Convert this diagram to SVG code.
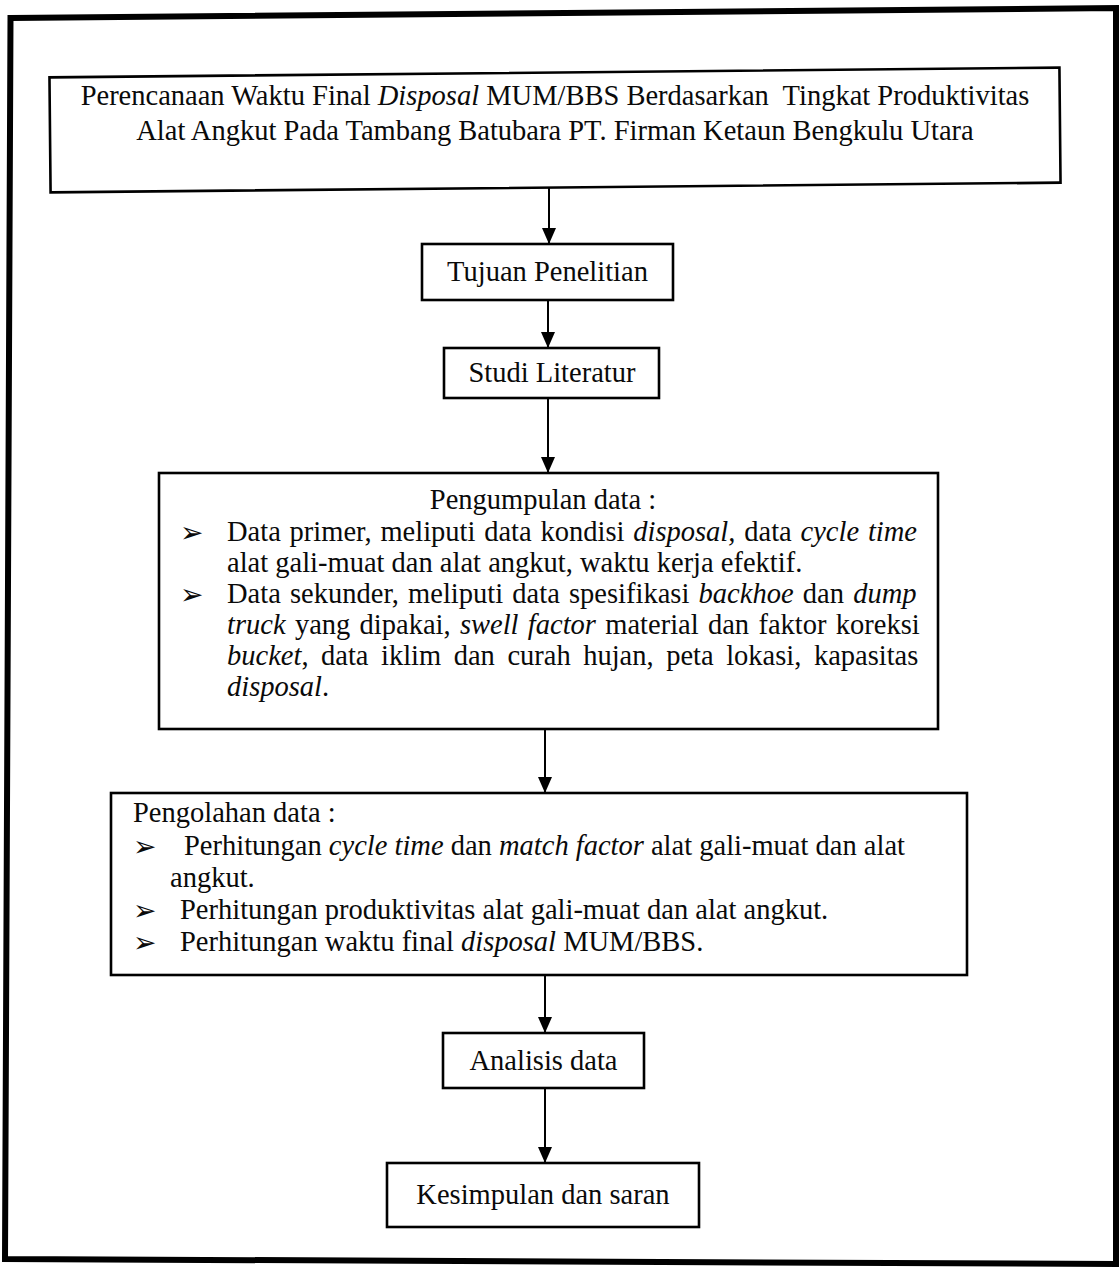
<svg xmlns="http://www.w3.org/2000/svg" width="1119" height="1270" viewBox="0 0 1119 1270">
<style>
.bg{fill:#fff}
.frame{fill:none;stroke:#000;stroke-width:6;stroke-linejoin:miter}
.box{fill:#fff;stroke:#000;stroke-width:2.6}
.t{font-family:"Liberation Serif","Times New Roman",serif;font-size:28.5px;fill:#0a0a0a}
.i{font-style:italic}
.b{font-family:"DejaVu Sans",sans-serif;font-size:28px;fill:#0a0a0a}
.c{stroke:#000;stroke-width:2;fill:none;marker-end:url(#arr)}
</style>
<defs>
<marker id="arr" markerUnits="userSpaceOnUse" markerWidth="17" markerHeight="15" refX="16" refY="7" orient="auto">
<path d="M0,0 L16,7 L0,14 Z" fill="#000"/>
</marker>
</defs>
<rect class="bg" x="0" y="0" width="1119" height="1270"/>
<polygon id="frame" class="frame" points="10.5,18 1116,8 1116,1264 5,1259"/>

<g id="connectors">
<line class="c" x1="549" y1="187" x2="549" y2="244"/>
<line class="c" x1="548" y1="300" x2="548" y2="348"/>
<line class="c" x1="548" y1="398" x2="548" y2="473"/>
<line class="c" x1="545" y1="729" x2="545" y2="793"/>
<line class="c" x1="545" y1="975" x2="545" y2="1033"/>
<line class="c" x1="545" y1="1088" x2="545" y2="1163"/>
</g>

<g id="node-judul">
<rect class="box" x="50" y="72.5" width="1010" height="115" transform="rotate(-0.55 555 130)"/>
<text class="t" x="555" y="105" text-anchor="middle" xml:space="preserve">Perencanaan Waktu Final <tspan class="i">Disposal</tspan> MUM/BBS Berdasarkan  Tingkat Produktivitas</text>
<text class="t" x="555" y="140" text-anchor="middle">Alat Angkut Pada Tambang Batubara PT. Firman Ketaun Bengkulu Utara</text>
</g>

<g id="node-tujuan">
<rect class="box" x="422" y="244" width="251" height="56"/>
<text class="t" x="547.5" y="281" text-anchor="middle">Tujuan Penelitian</text>
</g>

<g id="node-studi">
<rect class="box" x="444" y="348" width="215" height="50"/>
<text class="t" x="552" y="382" text-anchor="middle">Studi Literatur</text>
</g>

<g id="node-pengumpulan">
<rect class="box" x="159" y="473" width="779" height="256"/>
<text class="t" x="543" y="509" text-anchor="middle">Pengumpulan data :</text>
<text class="b" x="180" y="542">➢</text>
<text class="t" x="227" y="541" word-spacing="1.7">Data primer, meliputi data kondisi <tspan class="i">disposal,</tspan> data <tspan class="i">cycle time</tspan></text>
<text class="t" x="227" y="572">alat gali-muat dan alat angkut, waktu kerja efektif.</text>
<text class="b" x="180" y="604">➢</text>
<text class="t" x="227" y="603" word-spacing="2.1">Data sekunder, meliputi data spesifikasi <tspan class="i">backhoe</tspan> dan <tspan class="i">dump</tspan></text>
<text class="t" x="227" y="634" word-spacing="2.2"><tspan class="i">truck</tspan> yang dipakai, <tspan class="i">swell factor</tspan> material dan faktor koreksi</text>
<text class="t" x="227" y="665" word-spacing="5.4"><tspan class="i">bucket</tspan>, data iklim dan curah hujan, peta lokasi, kapasitas</text>
<text class="t" x="227" y="696"><tspan class="i">disposal</tspan>.</text>
</g>

<g id="node-pengolahan">
<rect class="box" x="111" y="793" width="856" height="182"/>
<text class="t" x="133" y="822">Pengolahan data :</text>
<text class="b" x="133" y="856">➢</text>
<text class="t" x="184" y="855">Perhitungan <tspan class="i">cycle time</tspan> dan <tspan class="i">match factor</tspan> alat gali-muat dan alat</text>
<text class="t" x="170" y="887">angkut.</text>
<text class="b" x="133" y="920">➢</text>
<text class="t" x="180" y="919">Perhitungan produktivitas alat gali-muat dan alat angkut.</text>
<text class="b" x="133" y="952">➢</text>
<text class="t" x="180" y="951">Perhitungan waktu final <tspan class="i">disposal</tspan> MUM/BBS.</text>
</g>

<g id="node-analisis">
<rect class="box" x="443" y="1033" width="201" height="55"/>
<text class="t" x="543.5" y="1070" text-anchor="middle">Analisis data</text>
</g>

<g id="node-kesimpulan">
<rect class="box" x="387" y="1163" width="312" height="64"/>
<text class="t" x="543" y="1204" text-anchor="middle">Kesimpulan dan saran</text>
</g>
</svg>
